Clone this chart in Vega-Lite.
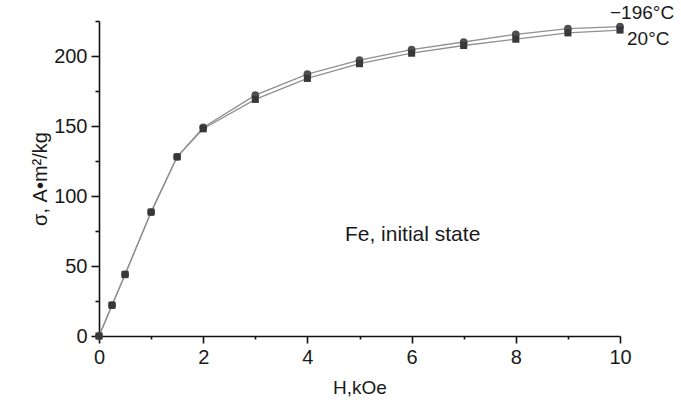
{
  "$schema": "https://vega.github.io/schema/vega-lite/v6.json",
  "width": 521,
  "height": 315,
  "autosize": "none",
  "padding": {"left": 99, "top": 21, "right": 61, "bottom": 69},
  "background": "white",
  "config": {
    "view": {"stroke": null},
    "font": "Liberation Sans",
    "axis": {
      "domainColor": "#111",
      "domainWidth": 1.6,
      "tickColor": "#111",
      "tickWidth": 1.6,
      "labelFontSize": 20,
      "labelColor": "#1a1a1a",
      "titleFontSize": 19,
      "titleFontWeight": "normal",
      "titleColor": "#1a1a1a",
      "grid": false
    }
  },
  "datasets": {
    "note": [{"note": "Fe, initial state", "H": 4.72, "sigma": 72}]
  },
  "data": {
    "values": [
      {"H": 0, "sigma": 0, "T": "20°C"},
      {"H": 0.25, "sigma": 22, "T": "20°C"},
      {"H": 0.5, "sigma": 44, "T": "20°C"},
      {"H": 1, "sigma": 88.5, "T": "20°C"},
      {"H": 1.5, "sigma": 128, "T": "20°C"},
      {"H": 2, "sigma": 148, "T": "20°C"},
      {"H": 3, "sigma": 169, "T": "20°C"},
      {"H": 4, "sigma": 184, "T": "20°C"},
      {"H": 5, "sigma": 194.5, "T": "20°C"},
      {"H": 6, "sigma": 202, "T": "20°C"},
      {"H": 7, "sigma": 207.5, "T": "20°C"},
      {"H": 8, "sigma": 212, "T": "20°C"},
      {"H": 9, "sigma": 216.5, "T": "20°C"},
      {"H": 10, "sigma": 218.5, "T": "20°C"},
      {"H": 0, "sigma": 0, "T": "−196°C"},
      {"H": 0.25, "sigma": 22, "T": "−196°C"},
      {"H": 0.5, "sigma": 44, "T": "−196°C"},
      {"H": 1, "sigma": 88.5, "T": "−196°C"},
      {"H": 1.5, "sigma": 128, "T": "−196°C"},
      {"H": 2, "sigma": 149, "T": "−196°C"},
      {"H": 3, "sigma": 172, "T": "−196°C"},
      {"H": 4, "sigma": 187, "T": "−196°C"},
      {"H": 5, "sigma": 197, "T": "−196°C"},
      {"H": 6, "sigma": 204.5, "T": "−196°C"},
      {"H": 7, "sigma": 210, "T": "−196°C"},
      {"H": 8, "sigma": 215.5, "T": "−196°C"},
      {"H": 9, "sigma": 219.5, "T": "−196°C"},
      {"H": 10, "sigma": 221, "T": "−196°C"}
    ]
  },
  "encoding": {
    "x": {
      "field": "H", "type": "quantitative",
      "scale": {"domain": [0, 10], "nice": false, "zero": false},
      "axis": {
        "title": "H,kOe",
        "values": [0, 1, 2, 3, 4, 5, 6, 7, 8, 9, 10],
        "labelExpr": "datum.value % 2 === 0 ? datum.label : ''",
        "tickSize": {"condition": {"test": "datum.value % 2 === 0", "value": 7}, "value": 3},
        "labelPadding": 4,
        "titlePadding": 11,
        "labelFlush": false,
        "labelOverlap": false
      }
    },
    "y": {
      "field": "sigma", "type": "quantitative",
      "scale": {"domain": [0, 225], "nice": false, "zero": false},
      "axis": {
        "title": "σ, A•m²/kg",
        "titleFontSize": 20,
        "values": [0, 25, 50, 75, 100, 125, 150, 175, 200, 225],
        "labelExpr": "datum.value % 50 === 0 ? datum.label : ''",
        "tickSize": {"condition": {"test": "datum.value % 50 === 0", "value": 8}, "value": 4},
        "labelPadding": 4,
        "titlePadding": 3,
        "labelFlush": false,
        "labelOverlap": false
      }
    }
  },
  "layer": [
    {
      "mark": {"type": "line", "color": "#909090", "strokeWidth": 1.3},
      "encoding": {"detail": {"field": "T"}}
    },
    {
      "transform": [{"filter": "datum.T === '−196°C'"}],
      "mark": {"type": "point", "shape": "circle", "filled": true, "size": 60, "color": "#505050", "opacity": 1}
    },
    {
      "transform": [{"filter": "datum.T === '20°C'"}],
      "mark": {"type": "point", "shape": "square", "filled": true, "size": 50, "color": "#383838", "opacity": 1}
    },
    {
      "transform": [{"filter": "datum.T === '−196°C' && datum.H === 10"}],
      "mark": {"type": "text", "align": "left", "baseline": "middle", "dx": -10, "dy": -14, "fontSize": 19, "color": "#1a1a1a"},
      "encoding": {"text": {"field": "T"}}
    },
    {
      "transform": [{"filter": "datum.T === '20°C' && datum.H === 10"}],
      "mark": {"type": "text", "align": "left", "baseline": "middle", "dx": 7, "dy": 9, "fontSize": 19, "color": "#1a1a1a"},
      "encoding": {"text": {"field": "T"}}
    },
    {
      "data": {"name": "note"},
      "mark": {"type": "text", "align": "left", "baseline": "middle", "fontSize": 21, "color": "#1a1a1a"},
      "encoding": {
        "text": {"field": "note", "type": "nominal"}
      }
    }
  ]
}
